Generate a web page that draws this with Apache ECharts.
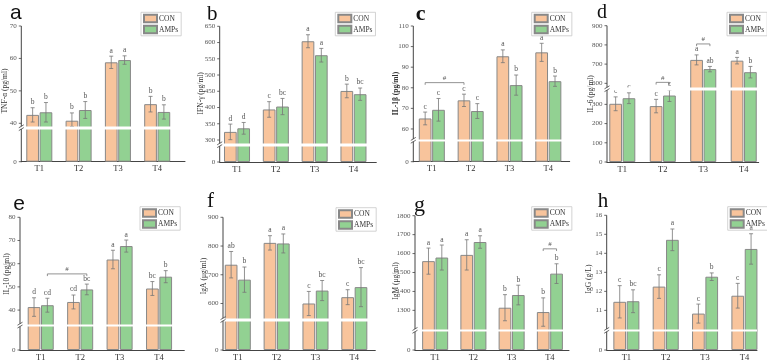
<!DOCTYPE html>
<html>
<head>
<meta charset="utf-8">
<script src="https://cdn.jsdelivr.net/npm/echarts@6.0.0/dist/echarts.min.js"></script>
<style>
  html, body { margin: 0; padding: 0; background: #fff; }
  #chart { width: 767px; height: 362px; }
</style>
</head>
<body>
<div id="chart"></div>
<script>
const categories = ['T1', 'T2', 'T3', 'T4'];
const groups = ['CON', 'AMPs'];

// a  TNF-α
const tnfCon = [42.6, 40.8, 58.8, 45.9];
const tnfConSd = [2.2, 2.4, 1.9, 2.4];
const tnfAmps = [43.4, 44.1, 59.5, 43.5];
const tnfAmpsSd = [3.0, 2.6, 1.3, 2.2];
const tnfConLetters = ['b', 'b', 'a', 'b'];
const tnfAmpsLetters = ['b', 'b', 'a', 'b'];
const tnfTicks = [0, 40, 50, 60, 70];

// b  IFN-γ
const ifnCon = [325, 394, 604, 451];
const ifnConSd = [24, 24, 20, 21];
const ifnAmps = [336, 403, 561, 441];
const ifnAmpsSd = [18, 25, 21, 19];
const ifnConLetters = ['d', 'c', 'a', 'b'];
const ifnAmpsLetters = ['d', 'bc', 'a', 'bc'];
const ifnTicks = [0, 300, 350, 400, 450, 500, 550, 600, 650];

// c  IL-1β
const il1Con = [65.1, 73.9, 95.3, 97.2];
const il1ConSd = [3.1, 3.0, 3.1, 4.4];
const il1Amps = [69.3, 68.7, 81.3, 83.2];
const il1AmpsSd = [5.5, 3.6, 4.9, 2.5];
const il1ConLetters = ['c', 'c', 'a', 'a'];
const il1AmpsLetters = ['c', 'c', 'b', 'b'];
const il1Ticks = [0, 60, 70, 80, 90, 100, 110];

// d  IL-6
const il6Con = [303, 291, 722, 718];
const il6ConSd = [36, 35, 26, 17];
const il6Amps = [332, 346, 674, 658];
const il6AmpsSd = [28, 31, 14, 30];
const il6ConLetters = ['c', 'c', 'a', 'a'];
const il6AmpsLetters = ['c', 'c', 'ab', 'b'];
const il6Ticks = [0, 100, 200, 300, 600, 700, 800, 900];

// e  IL-10
const il10Con = [41.3, 43.5, 61.8, 49.3];
const il10ConSd = [4.0, 3.0, 4.0, 3.0];
const il10Amps = [42.1, 48.9, 67.6, 54.4];
const il10AmpsSd = [3.0, 2.3, 2.6, 2.6];
const il10ConLetters = ['d', 'cd', 'a', 'bc'];
const il10AmpsLetters = ['cd', 'bc', 'a', 'b'];
const il10Ticks = [0, 40, 50, 60, 70, 80];

// f  IgA
const igaCon = [735, 811, 600, 622];
const igaConSd = [46, 25, 42, 26];
const igaAmps = [683, 809, 645, 657];
const igaAmpsSd = [44, 33, 35, 68];
const igaConLetters = ['ab', 'a', 'c', 'c'];
const igaAmpsLetters = ['b', 'a', 'bc', 'bc'];
const igaTicks = [0, 600, 700, 800, 900];

// g  IgM
const igmCon = [1560, 1593, 1314, 1291];
const igmConSd = [69, 80, 69, 75];
const igmAmps = [1579, 1661, 1381, 1494];
const igmAmpsSd = [66, 33, 52, 52];
const igmConLetters = ['a', 'a', 'b', 'b'];
const igmAmpsLetters = ['a', 'a', 'b', 'b'];
const igmTicks = [0, 1300, 1400, 1500, 1600, 1700, 1800];

// h  IgG
const iggCon = [11.45, 12.25, 10.83, 11.77];
const iggConSd = [0.85, 0.62, 0.5, 0.65];
const iggAmps = [11.48, 14.71, 12.77, 14.23];
const iggAmpsSd = [0.6, 0.57, 0.2, 0.8];
const iggConLetters = ['c', 'c', 'c', 'c'];
const iggAmpsLetters = ['bc', 'a', 'b', 'a'];
const iggTicks = [0, 11, 12, 13, 14, 15, 16];

// "#" brackets: [category, group, category, group, y]
const il1Brackets = [[0, 0, 1, 0, 82.5]];
const il6Brackets = [[1, 0, 1, 1, 605], [2, 0, 2, 1, 805]];
const il10Brackets = [[0, 1, 1, 1, 55.6]];
const igmBrackets = [[3, 0, 3, 1, 1625]];

const panels = [
  { tag: 'a', name: 'TNF-α (pg/ml)', max: 70, brk: [10.1, 39.03, 0.77], ticks: tnfTicks,
    con: tnfCon, conSd: tnfConSd, amps: tnfAmps, ampsSd: tnfAmpsSd, conL: tnfConLetters, ampsL: tnfAmpsLetters, br: [] },
  { tag: 'b', name: 'IFN-γ (pg/ml)', max: 650, brk: [49.4, 289.4, 7.7], ticks: ifnTicks,
    con: ifnCon, conSd: ifnConSd, amps: ifnAmps, ampsSd: ifnAmpsSd, conL: ifnConLetters, ampsL: ifnAmpsLetters, br: [] },
  { tag: 'c', name: 'IL-1β (pg/ml)', max: 110, brk: [9.8, 55.1, 1.2], ticks: il1Ticks,
    con: il1Con, conSd: il1ConSd, amps: il1Amps, ampsSd: il1AmpsSd, conL: il1ConLetters, ampsL: il1AmpsLetters, br: il1Brackets },
  { tag: 'd', name: 'IL-6 (pg/ml)', max: 900, brk: [374.9, 578.4, 13], ticks: il6Ticks,
    con: il6Con, conSd: il6ConSd, amps: il6Amps, ampsSd: il6AmpsSd, conL: il6ConLetters, ampsL: il6AmpsLetters, br: il6Brackets },
  { tag: 'e', name: 'IL-10 (pg/ml)', max: 80, brk: [10.2, 34.05, 1.06], ticks: il10Ticks,
    con: il10Con, conSd: il10ConSd, amps: il10Amps, ampsSd: il10AmpsSd, conL: il10ConLetters, ampsL: il10AmpsLetters, br: il10Brackets },
  { tag: 'f', name: 'IgA (μg/ml)', max: 900, brk: [101.8, 548.5, 8.55], ticks: igaTicks,
    con: igaCon, conSd: igaConSd, amps: igaAmps, ampsSd: igaAmpsSd, conL: igaConLetters, ampsL: igaAmpsLetters, br: [] },
  { tag: 'g', name: 'IgM (μg/ml)', max: 1800, brk: [97.4, 1201, 13], ticks: igmTicks,
    con: igmCon, conSd: igmConSd, amps: igmAmps, ampsSd: igmAmpsSd, conL: igmConLetters, ampsL: igmAmpsLetters, br: igmBrackets },
  { tag: 'h', name: 'IgG (g/L)', max: 16, brk: [0.97, 10.015, 0.13], ticks: iggTicks,
    con: iggCon, conSd: iggConSd, amps: iggAmps, ampsSd: iggAmpsSd, conL: iggConLetters, ampsL: iggAmpsLetters, br: [] }
];

// layout per panel: plot box, x range, legend corner, y title centre, tag letter
const layout = [
  { box: [21.3, 26, 163.7, 135.7], xr: [-0.458, 3.707], lg: [141, 12.3], nm: [5.3, 91], t: [10, 19.3, 'sans', 21, 'normal'] },
  { box: [219.7, 26.3, 156.6, 135.7], xr: [-0.446, 3.588], lg: [335.3, 12.3], nm: [201.3, 93.3], t: [207, 20, 'serif', 21, 'normal'] },
  { box: [413.3, 26, 156.4, 135.7], xr: [-0.477, 3.55], lg: [531.7, 12.3], nm: [395.7, 93.5], t: [415.7, 20.7, 'serif', 22, 'bold'] },
  { box: [607, 25.7, 151.7, 136.3], xr: [-0.378, 3.37], lg: [727, 12.3], nm: [591, 94], t: [597, 18.3, 'serif', 20, 'normal'] },
  { box: [20, 217.3, 164.3, 135], xr: [-0.525, 3.64], lg: [140, 206.7], nm: [6.7, 274], t: [13.3, 210.3, 'sans', 21, 'normal'] },
  { box: [223, 217.3, 152.3, 135], xr: [-0.381, 3.54], lg: [336, 207.7], nm: [203.7, 276], t: [207, 207.7, 'serif', 21, 'normal'] },
  { box: [415, 215.7, 154, 136.6], xr: [-0.527, 3.5], lg: [531.7, 206.7], nm: [395.7, 281], t: [414, 211, 'serif', 22, 'normal'] },
  { box: [606.7, 215.3, 150.3, 137], xr: [-0.5, 3.32], lg: [727.7, 206.7], nm: [589.3, 279], t: [597.7, 207.7, 'serif', 21, 'normal'] }
];

const SERIF = 'Liberation Serif';
const SANS = 'Liberation Sans';
const colors = ['#F8C49C', '#92D192'];
const barW = 12.7;
const offs = [-(barW * 1.05) / 2, (barW * 1.05) / 2];
const axisColor = '#444';
const errColor = '#777';

function errorRender(off, means, sds, letters) {
  return function (params, api) {
    const i = params.dataIndex;
    const x = api.coord([i, means[i]])[0] + off;
    const top = api.coord([i, means[i] + sds[i]])[1];
    const bot = api.coord([i, means[i] - sds[i]])[1];
    const ls = { stroke: errColor, lineWidth: 0.8 };
    return {
      type: 'group',
      children: [
        { type: 'line', shape: { x1: x, y1: top, x2: x, y2: bot }, style: ls },
        { type: 'line', shape: { x1: x - 2, y1: top, x2: x + 2, y2: top }, style: ls },
        { type: 'line', shape: { x1: x - 2, y1: bot, x2: x + 2, y2: bot }, style: ls },
        { type: 'text', x: x, y: top - 1.5,
          style: { text: letters[i], align: 'center', verticalAlign: 'bottom',
                   font: '7.5px ' + SERIF, fill: '#555' } }
      ]
    };
  };
}

function bracketRender(params, api) {
  const cA = api.value(0), gA = api.value(1), cB = api.value(2), gB = api.value(3), y = api.value(4);
  const pA = api.coord([cA, y]);
  const pB = api.coord([cB, y]);
  const xA = pA[0] + offs[gA], xB = pB[0] + offs[gB], yp = pA[1];
  return {
    type: 'group',
    children: [
      { type: 'polyline', shape: { points: [[xA, yp + 2.2], [xA, yp], [xB, yp], [xB, yp + 2.2]] },
        style: { stroke: errColor, lineWidth: 0.8, fill: null } },
      { type: 'text', x: (xA + xB) / 2, y: yp - 1,
        style: { text: '#', align: 'center', verticalAlign: 'bottom', font: '7px ' + SERIF, fill: '#555' } }
    ]
  };
}

const grid = [], xAxis = [], yAxis = [], series = [], legend = [], graphic = [];

panels.forEach((P, k) => {
  const L = layout[k];
  grid.push({ left: L.box[0], top: L.box[1], width: L.box[2], height: L.box[3] });
  xAxis.push({
    gridIndex: k, type: 'value', min: L.xr[0], max: L.xr[1],
    axisLine: { show: true, onZero: false, lineStyle: { color: axisColor, width: 1 } },
    axisTick: { show: false },
    splitLine: { show: false },
    axisLabel: { customValues: [0, 1, 2, 3], formatter: v => categories[Math.round(v)],
                 fontFamily: SERIF, fontSize: 8.5, color: '#333', margin: 3 }
  });
  yAxis.push({
    gridIndex: k, type: 'value', min: 0, max: P.max,
    breaks: [{ start: P.brk[0], end: P.brk[1], gap: P.brk[2] }],
    breakArea: { show: true, itemStyle: { color: '#fff', borderWidth: 0, borderColor: '#fff', opacity: 1 },
                 zigzagAmplitude: 0, expandOnClick: false },
    // axis line, ticks, labels and title are placed below from this axis scale
    axisLine: { show: false, onZero: false },
    axisTick: { show: false },
    axisLabel: { show: false },
    splitLine: { show: false }
  });
  const vals = [P.con, P.amps], sds = [P.conSd, P.ampsSd], lets = [P.conL, P.ampsL];
  groups.forEach((g, s) => {
    series.push({
      type: 'bar', name: g, xAxisIndex: k, yAxisIndex: k,
      data: vals[s].map((v, i) => [i, v]),
      barWidth: barW, barGap: '5%',
      itemStyle: { color: colors[s], borderColor: '#888', borderWidth: 1 },
      emphasis: { disabled: true }
    });
  });
  groups.forEach((g, s) => {
    series.push({
      type: 'custom', xAxisIndex: k, yAxisIndex: k, silent: true, z: 3,
      data: vals[s].map((v, i) => [i, v]),
      encode: { x: 0, y: 1 },
      renderItem: errorRender(offs[s], vals[s], sds[s], lets[s])
    });
  });
  if (P.br.length) {
    series.push({
      type: 'custom', xAxisIndex: k, yAxisIndex: k, silent: true, z: 3,
      data: P.br, encode: { x: 0, y: 4 },
      renderItem: bracketRender
    });
  }
  legend.push({
    data: groups, orient: 'vertical', left: L.lg[0], top: L.lg[1],
    itemWidth: 13, itemHeight: 7.5, itemGap: 1.5, icon: 'rect',
    padding: [1.5, 3, 1.5, 2], borderColor: '#c8c8c8', borderWidth: 0.8,
    selectedMode: false,
    textStyle: { fontFamily: SERIF, fontSize: 7.5, color: '#333', padding: [0, 0, 0, -3] }
  });
  graphic.push({
    type: 'text', x: L.t[0], y: L.t[1] + L.t[3] * 0.22,
    style: { text: P.tag, font: L.t[4] + ' ' + L.t[3] + 'px ' + (L.t[2] === 'sans' ? SANS : SERIF),
             fill: '#111', verticalAlign: 'bottom' }
  });
  graphic.push({
    type: 'text', x: L.nm[0], y: L.nm[1], rotation: Math.PI / 2,
    style: { text: P.name, align: 'center', verticalAlign: 'middle', fill: '#333',
             font: (P.tag === 'c' ? 'bold ' : '') + '7.5px ' + SERIF }
  });
});

const chart = echarts.init(document.getElementById('chart'));
chart.setOption({
  animation: false,
  backgroundColor: '#fff',
  grid, xAxis, yAxis, series, legend, graphic
});

// y axis line, ticks, labels and "//" marks, positioned through each y axis scale
const extra = [];
panels.forEach((P, k) => {
  const x = layout[k].box[0];
  const y0 = chart.convertToPixel({ yAxisIndex: k }, 0);
  const yTop = chart.convertToPixel({ yAxisIndex: k }, P.max);
  if (isFinite(y0) && isFinite(yTop)) {
    extra.push({ type: 'line', shape: { x1: x, y1: y0 + 0.5, x2: x, y2: yTop },
                 style: { stroke: axisColor, lineWidth: 1 }, z: 150 });
  }
  P.ticks.forEach(v => {
    const y = chart.convertToPixel({ yAxisIndex: k }, v);
    if (!isFinite(y)) return;
    extra.push({ type: 'line', shape: { x1: x - 2.5, y1: y, x2: x, y2: y },
                 style: { stroke: axisColor, lineWidth: 0.8 }, z: 200 });
    extra.push({ type: 'text', x: x - 4.5, y: y,
                 style: { text: String(v), align: 'right', verticalAlign: 'middle',
                          font: '7px ' + SERIF, fill: '#555' }, z: 200 });
  });
  const yb = chart.convertToPixel({ yAxisIndex: k }, (P.brk[0] + P.brk[1]) / 2);
  if (!isFinite(yb)) return;
  extra.push({ type: 'rect', shape: { x: x - 1, y: yb - 1.3, width: 2, height: 2.6 },
               style: { fill: '#fff' }, z: 190 });
  [-1.4, 1.4].forEach(d => {
    extra.push({ type: 'line', shape: { x1: x - 2.5, y1: yb + d + 1.5, x2: x + 2.5, y2: yb + d - 1.5 },
                 style: { stroke: axisColor, lineWidth: 0.8 }, z: 200 });
  });
});
chart.setOption({ graphic: graphic.concat(extra) });
</script>
</body>
</html>
